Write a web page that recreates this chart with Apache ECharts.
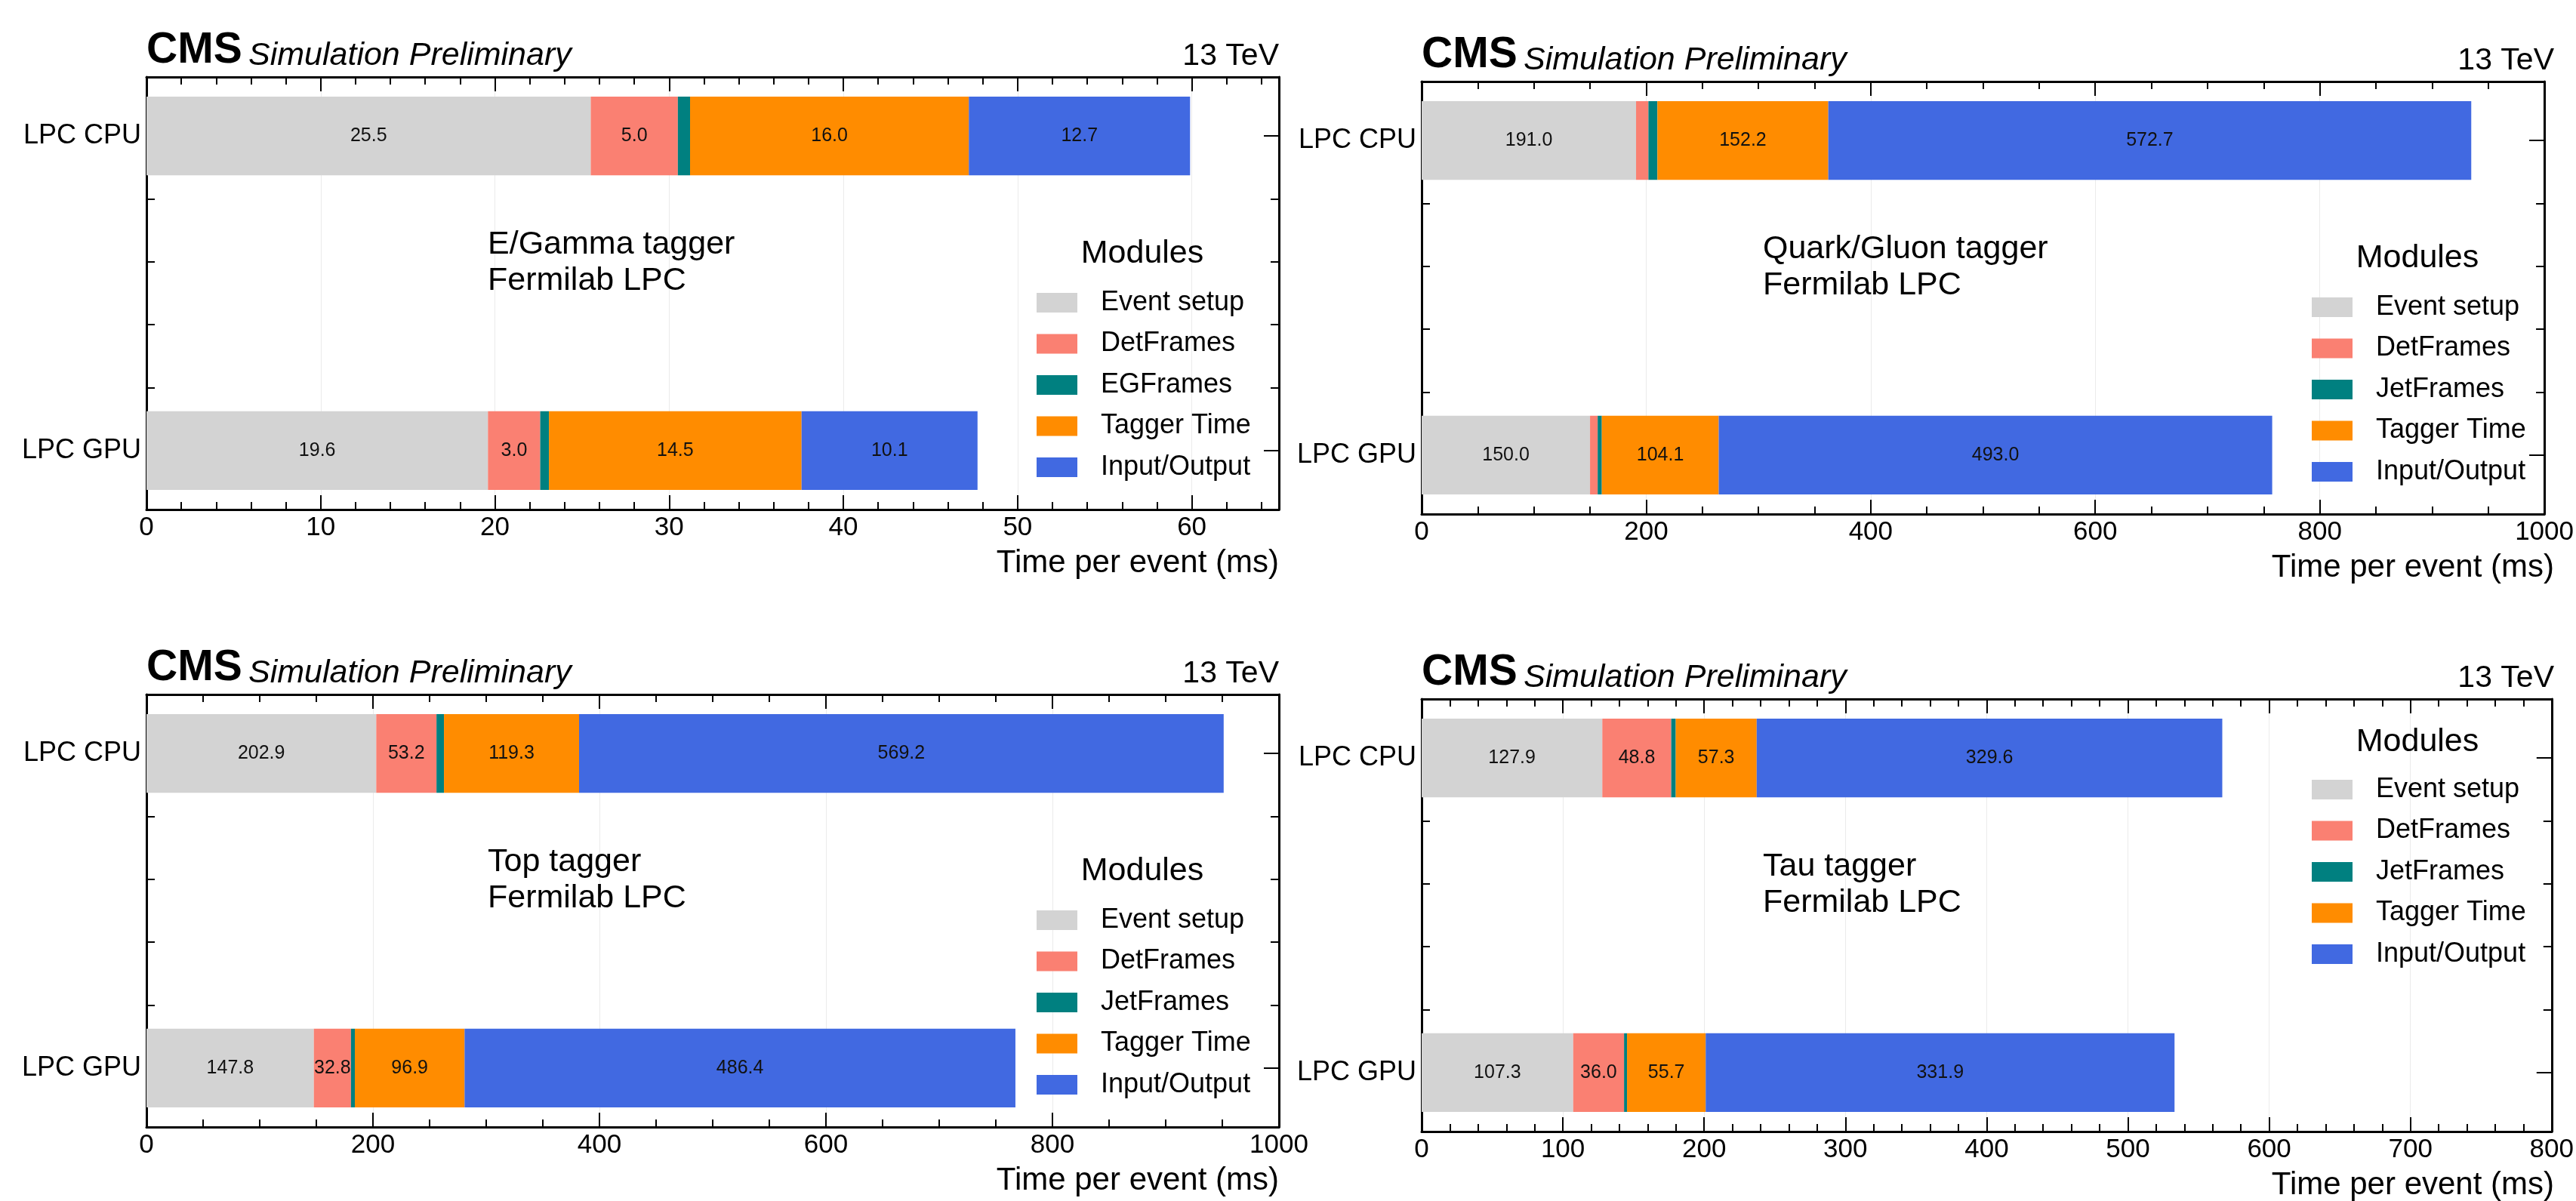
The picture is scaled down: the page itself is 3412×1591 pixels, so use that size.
<!DOCTYPE html>
<html>
<head>
<meta charset="utf-8">
<title>CMS tagger timing</title>
<script src="https://cdn.jsdelivr.net/npm/echarts@6/dist/echarts.min.js"></script>
<style>
html, body { margin: 0; padding: 0; background: #fff; }
#chart { width: 3412px; height: 1591px; }
</style>
</head>
<body>
<div id="chart"></div>
<script>
// ---- data ----
var categories = ['LPC CPU', 'LPC GPU'];
var modulesEGamma = ['Event setup', 'DetFrames', 'EGFrames', 'Tagger Time', 'Input/Output'];
var modulesJet = ['Event setup', 'DetFrames', 'JetFrames', 'Tagger Time', 'Input/Output'];
var moduleColors = ['#d3d3d3', '#fa8072', '#008080', '#ff8c00', '#4169e1'];

var egammaCpu = [25.5, 5.0, 0.7, 16.0, 12.7];
var egammaGpu = [19.6, 3.0, 0.5, 14.5, 10.1];
var qgCpu = [191.0, 11.0, 8.0, 152.2, 572.7];
var qgGpu = [150.0, 6.8, 3.7, 104.1, 493.0];
var topCpu = [202.9, 53.2, 6.6, 119.3, 569.2];
var topGpu = [147.8, 32.8, 3.4, 96.9, 486.4];
var tauCpu = [127.9, 48.8, 3.2, 57.3, 329.6];
var tauGpu = [107.3, 36.0, 2.1, 55.7, 331.9];

var egammaTicks = [0, 10, 20, 30, 40, 50, 60];
var qgTicks = [0, 200, 400, 600, 800, 1000];
var topTicks = [0, 200, 400, 600, 800, 1000];
var tauTicks = [0, 100, 200, 300, 400, 500, 600, 700, 800];

var FONT = '"Liberation Sans", Arial, Helvetica, sans-serif';
var BAR_HEIGHT = 0.25;   // in category units, like matplotlib barh height

// layout of the four frames (px)
var panels = [
	{label: ['E/Gamma tagger', 'Fermilab LPC'], modules: modulesEGamma, cpu: egammaCpu, gpu: egammaGpu,
		ticks: egammaTicks, max: 65, interval: 10, minor: 2, left: 194, top: 102, legendY: 294, titleY: 234},
	{label: ['Quark/Gluon tagger', 'Fermilab LPC'], modules: modulesJet, cpu: qgCpu, gpu: qgGpu,
		ticks: qgTicks, max: 1000, interval: 200, minor: 50, left: 1883, top: 108, legendY: 294, titleY: 234},
	{label: ['Top tagger', 'Fermilab LPC'], modules: modulesJet, cpu: topCpu, gpu: topGpu,
		ticks: topTicks, max: 1000, interval: 200, minor: 50, left: 194, top: 920, legendY: 294, titleY: 234},
	{label: ['Tau tagger', 'Fermilab LPC'], modules: modulesJet, cpu: tauCpu, gpu: tauGpu,
		ticks: tauTicks, max: 800, interval: 100, minor: 20, left: 1883, top: 926, legendY: 115, titleY: 57}
];
var W = 1500, H = 573;

function minorList(p) {
	var out = [];
	for (var v = 0; v <= p.max + 1e-9; v += p.minor) {
		if (p.ticks.indexOf(v) < 0) out.push(v);
	}
	return out;
}

// one stacked segment, drawn through the axes' own scales
function renderSegment(params, api) {
	var start = api.value(0);
	var len = api.value(1);
	var row = api.value(2);
	var p0 = api.coord([start, row]);
	var p1 = api.coord([start + len, row]);
	var h = api.size([0, BAR_HEIGHT])[1];
	var w = p1[0] - p0[0];
	var children = [{
		type: 'rect',
		shape: {x: p0[0], y: p0[1] - h / 2, width: w, height: h},
		style: {fill: api.visual('color')}
	}];
	if (w > 30) {
		children.push({
			type: 'text', z2: 10,
			style: {text: len.toFixed(1), x: p0[0] + w / 2, y: p0[1], align: 'center', verticalAlign: 'middle',
				fontSize: 25, fontFamily: FONT, fill: '#111'}
		});
	}
	return {type: 'group', children: children};
}

var grid = [], xAxis = [], yAxis = [], series = [], legend = [], graphic = [];
var blackLine = {show: true, onZero: false, lineStyle: {color: '#000', width: 3}};
var noLine = {show: false, onZero: false};

panels.forEach(function (p, i) {
	grid.push({left: p.left, top: p.top, width: W, height: H, containLabel: false});

	var minors = minorList(p);
	function xAx(pos, line, ticks, len, extra) {
		var ax = {type: 'value', gridIndex: i, min: 0, max: p.max, interval: p.interval, position: pos,
			axisLine: line, axisLabel: {show: false}, splitLine: {show: false},
			axisTick: {inside: true, length: len, customValues: ticks, lineStyle: {color: '#000', width: 2}}};
		for (var k in extra) ax[k] = extra[k];
		xAxis.push(ax);
		return xAxis.length - 1;
	}
	// bottom: main axis with labels
	var xMain = xAx('bottom', blackLine, p.ticks, 19, {
		axisLabel: {show: true, customValues: p.ticks, fontSize: 35, fontFamily: FONT, color: '#000', margin: 7,
			formatter: function (v) { return String(v); }},
		splitLine: {show: true, lineStyle: {color: 'rgba(0,0,0,0.08)', width: 1}}
	});
	xAx('bottom', noLine, minors, 10);
	// mirrored top
	xAx('top', blackLine, p.ticks, 19);
	xAx('top', noLine, minors, 10);

	function yAx(pos, line, ticks, len, extra) {
		var ax = {type: 'value', gridIndex: i, inverse: true, min: -0.1875, max: 1.1875, position: pos,
			axisLine: line, axisLabel: {show: false}, splitLine: {show: false},
			axisTick: {inside: true, length: len, customValues: ticks, lineStyle: {color: '#000', width: 2}}};
		for (var k in extra) ax[k] = extra[k];
		yAxis.push(ax);
		return yAxis.length - 1;
	}
	var yMain = yAx('left', blackLine, [0, 1], 20, {
		axisLabel: {show: true, customValues: [0, 1], fontSize: 36, fontFamily: FONT, color: '#000', margin: 7,
			formatter: function (v) { return categories[Math.round(v)]; }}
	});
	yAx('left', noLine, [0.2, 0.4, 0.6, 0.8], 11);
	yAx('right', blackLine, [0, 1], 20);
	yAx('right', noLine, [0.2, 0.4, 0.6, 0.8], 11);

	// stacked segments, cumulative start computed from the arrays
	var cpuStart = 0, gpuStart = 0;
	p.modules.forEach(function (name, m) {
		series.push({
			name: name, type: 'custom', xAxisIndex: xMain, yAxisIndex: yMain,
			itemStyle: {color: moduleColors[m]},
			renderItem: renderSegment,
			data: [[cpuStart, p.cpu[m], 0], [gpuStart, p.gpu[m], 1]]
		});
		cpuStart += p.cpu[m];
		gpuStart += p.gpu[m];
	});

	legend.push({
		orient: 'vertical', left: p.left + W - 326, top: p.top + p.legendY - 18,
		itemWidth: 54, itemHeight: 26, itemGap: 18.5, icon: 'rect', selectedMode: false,
		textStyle: {fontSize: 36, fontFamily: FONT, color: '#000', padding: [0, 0, 0, 26]},
		data: p.modules
	});

	// texts around the frame
	function txt(x, y, s, size, extra) {
		var style = {text: s, x: x, y: y, fontSize: size, fontFamily: FONT, fill: '#000', verticalAlign: 'middle', align: 'left'};
		for (var k in extra) style[k] = extra[k];
		graphic.push({type: 'text', style: style});
	}
	txt(p.left, p.top - 35, 'CMS', 57, {fontWeight: 'bold'});
	txt(p.left + 135, p.top - 28, 'Simulation Preliminary', 43, {fontStyle: 'italic'});
	txt(p.left + W, p.top - 27, '13 TeV', 41, {align: 'right'});
	txt(p.left + 452, p.top + 222, p.label[0], 43);
	txt(p.left + 452, p.top + 270, p.label[1], 43);
	txt(p.left + W - 181, p.top + p.titleY, 'Modules', 43, {align: 'center'});
	txt(p.left + W, p.top + H + 71, 'Time per event (ms)', 42, {align: 'right'});
});

var myChart = echarts.init(document.getElementById('chart'), null, {renderer: 'canvas'});
myChart.setOption({
	backgroundColor: '#fff',
	animation: false,
	grid: grid,
	xAxis: xAxis,
	yAxis: yAxis,
	legend: legend,
	series: series,
	graphic: graphic
});
</script>
</body>
</html>
